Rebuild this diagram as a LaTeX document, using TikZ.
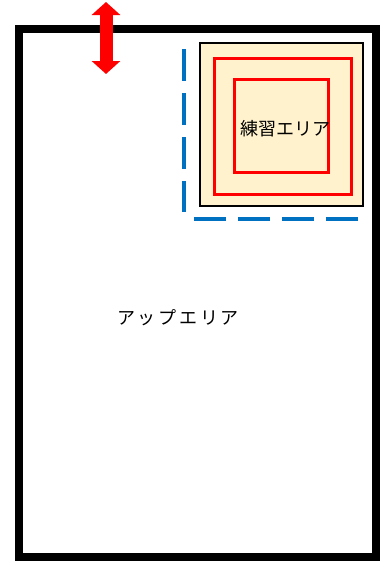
\documentclass[tikz,border=0pt]{standalone}
\usepackage{fontspec}
\newfontfamily\jpfont{Noto Sans CJK JP}
\newfontfamily\jpwide[LetterSpace=15]{Noto Sans CJK JP}
\usetikzlibrary{arrows.meta}
\definecolor{practicefill}{HTML}{FFF2CC}
\definecolor{edgeblue}{HTML}{0070C0}

\begin{document}
\begin{tikzpicture}[x=1pt,y=-1pt,
                    frame/.style={draw=black,line width=8pt},
                    practice/.style={draw=black,fill=practicefill,line width=2pt},
                    ring/.style={draw=red,line width=3pt},
                    edge/.style={draw=edgeblue,line width=4pt,dash pattern=on 32pt off 12pt},
                    updown/.style={draw=red,line width=13pt,
                      {Triangle[length=13pt,width=28pt]}-{Triangle[length=13pt,width=28pt]}},
                    label/.style={font=\jpfont\fontsize{18pt}{20pt}\selectfont,inner sep=0pt}]
  \useasboundingbox (0,0) rectangle (383,562);

  \draw[frame] (19,29) rectangle (376,557);

  \draw[practice] (200,43) rectangle (363,206);
  \draw[ring] (214,58) rectangle (351,194);
  \draw[ring] (234,79) rectangle (328,172);
  \node[label] (practice) at (285,129) {練習エリア};

  \coordinate (vtop) at (184,49);
  \coordinate (vbot) at (184,212);
  \coordinate (hleft) at (194,219);
  \coordinate (hright) at (358,219);
  \draw[edge] (vtop) -- (vbot);
  \draw[edge] (hleft) -- (hright);

  \coordinate (arrtop) at (106,2);
  \coordinate (arrbot) at (106,74);
  \draw[updown] (arrtop) -- (arrbot);

  \node[label,font=\jpwide\fontsize{18pt}{20pt}\selectfont] (up) at (178,318) {アップエリア};
\end{tikzpicture}
\end{document}
